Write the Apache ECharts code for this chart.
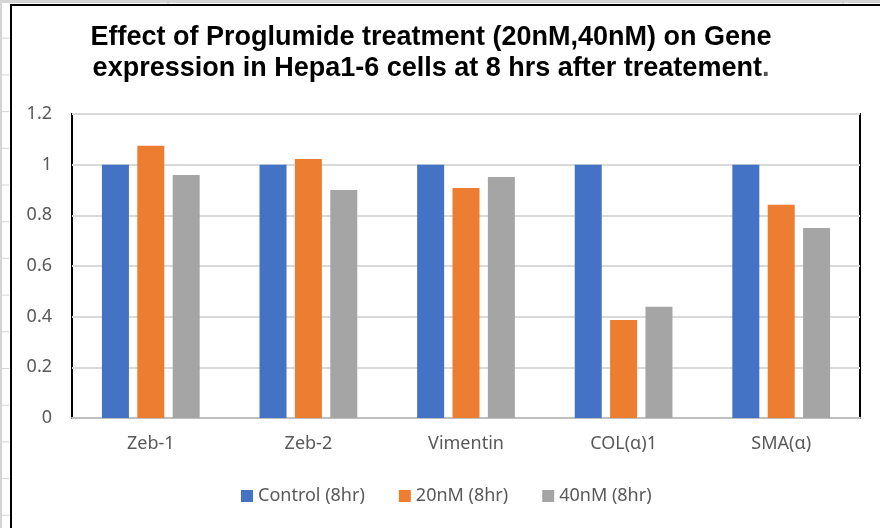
<!DOCTYPE html>
<html>
<head>
<meta charset="utf-8">
<script src="https://cdn.jsdelivr.net/npm/echarts@6/dist/echarts.min.js"></script>
<style>
  html, body { margin: 0; padding: 0; background: #fff; }
  #chart { width: 880px; height: 528px; }
</style>
</head>
<body>
<div id="chart"></div>
<script>
// data
const categories = ['Zeb-1', 'Zeb-2', 'Vimentin', 'COL(α)1', 'SMA(α)']
const seriesNames = ['Control (8hr)', '20nM (8hr)', '40nM (8hr)']
const control8hr = [1, 1, 1, 1, 1]
const nm20_8hr = [1.075, 1.022, 0.908, 0.387, 0.842]
const nm40_8hr = [0.959, 0.900, 0.951, 0.439, 0.750]
const colors = ['#4472C4', '#ED7D31', '#A5A5A5']

const labelFont = '"Noto Sans", sans-serif'
const titleFont = '"Liberation Sans", Arial, sans-serif'

// spreadsheet cell lines peeking out around the chart object
function sheetLines() {
  const els = []
  for (let y = 1.5; y < 528; y += 36.7) {
    els.push({ type: 'line', shape: { x1: 0, y1: y, x2: 9, y2: y }, style: { stroke: '#d4d4d4', lineWidth: 1 } })
  }
  els.push({ type: 'line', shape: { x1: 1, y1: 0, x2: 1, y2: 528 }, style: { stroke: '#d4d4d4', lineWidth: 2 } })
  els.push({ type: 'line', shape: { x1: 0, y1: 1.5, x2: 880, y2: 1.5 }, style: { stroke: '#d4d4d4', lineWidth: 3 } })
  ;[168, 843].forEach(x => {
    els.push({ type: 'line', shape: { x1: x, y1: 0, x2: x, y2: 4 }, style: { stroke: '#c8c8c8', lineWidth: 1 } })
  })
  // chart object border
  els.push({ type: 'polyline', shape: { points: [[11, 528], [11, 5], [880, 5]] }, style: { stroke: '#000', lineWidth: 2, fill: null } })
  return els
}

const chart = echarts.init(document.getElementById('chart'))

const makeBar = (name, data, i) => ({
  name: name,
  type: 'bar',
  data: data,
  barWidth: 27,
  barGap: '31%',
  itemStyle: { color: colors[i] }
})

const option = {
  animation: false,
  color: colors,
  title: {
    text: 'Effect of Proglumide treatment (20nM,40nM) on Gene\nexpression in Hepa1-6 cells at 8 hrs after treatement{p|.}',
    left: 426,
    top: 17,
    textAlign: 'center',
    textStyle: {
      fontFamily: titleFont,
      fontSize: 27,
      fontWeight: 'bold',
      color: '#000',
      lineHeight: 31,
      rich: {
        p: { fontFamily: titleFont, fontSize: 27, fontWeight: 'bold', color: '#555', lineHeight: 31 }
      }
    }
  },
  legend: {
    data: seriesNames,
    left: 236,
    top: 482,
    itemWidth: 12,
    itemHeight: 12,
    itemGap: 34,
    icon: 'rect',
    textStyle: { color: '#595959', fontSize: 18, fontFamily: labelFont }
  },
  grid: {
    left: 72,
    right: 20,
    top: 114,
    bottom: 110,
    show: true,
    borderColor: '#000',
    borderWidth: 2
  },
  xAxis: {
    type: 'category',
    data: categories,
    axisTick: { show: false },
    axisLine: { lineStyle: { color: '#bfbfbf', width: 2 } },
    axisLabel: { color: '#595959', fontSize: 18, fontFamily: labelFont, margin: 17 }
  },
  yAxis: {
    type: 'value',
    min: 0,
    max: 1.2,
    interval: 0.2,
    axisLine: { show: false },
    axisTick: { show: false },
    axisLabel: { color: '#595959', fontSize: 18, fontFamily: labelFont, margin: 20 },
    splitLine: { lineStyle: { color: '#d9d9d9', width: 2 } }
  },
  graphic: sheetLines(),
  series: [
    makeBar(seriesNames[0], control8hr, 0),
    makeBar(seriesNames[1], nm20_8hr, 1),
    makeBar(seriesNames[2], nm40_8hr, 2)
  ]
}

chart.setOption(option)
</script>
</body>
</html>
